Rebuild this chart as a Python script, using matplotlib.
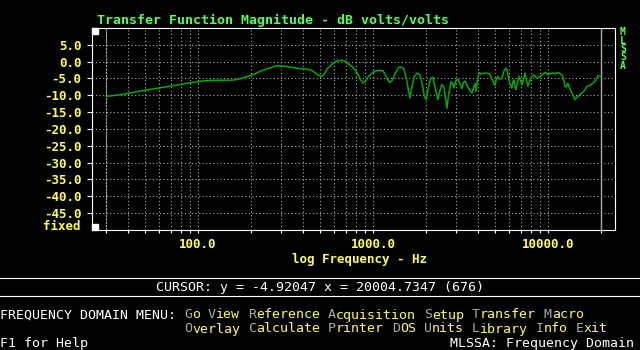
import matplotlib
matplotlib.use('Agg')
import matplotlib.pyplot as plt
from matplotlib.patches import Rectangle
from matplotlib.lines import Line2D

plt.rcParams['font.family'] = ['DejaVu Sans Mono']

# frequency (Hz) and magnitude (dB)
freq = [30, 35, 40, 47, 55, 65, 75, 85, 95, 105, 114, 135, 158, 174, 190, 205, 226, 245, 258,
        272, 286, 310, 349, 390, 420, 448, 480, 511, 530, 550, 568, 600, 630, 670, 700, 720,
        760, 789, 820, 850, 877, 900, 940, 987, 1040, 1097, 1140, 1180, 1220, 1250, 1290,
        1340, 1400, 1450, 1500, 1560, 1600, 1627, 1660, 1720, 1783, 1850, 1920, 1960, 2008,
        2060, 2130, 2200, 2260, 2351, 2400, 2479, 2540, 2600, 2648, 2700, 2792, 2850, 2904,
        2980, 3062, 3140, 3228, 3290, 3357, 3420, 3500, 3600, 3681, 3760, 3840, 3881, 3940,
        4036, 4150, 4255, 4370, 4483, 4600, 4667, 4786, 4880, 4977, 5080, 5177, 5300, 5458,
        5600, 5754, 5850, 5902, 6050, 6223, 6300, 6394, 6480, 6561, 6700, 6823, 6950, 7096,
        7250, 7389, 7530, 7686, 7900, 8102, 8318, 8480, 8650, 8995, 9300, 9616, 10000, 10300,
        10690, 11000, 11400, 12020, 12250, 12500, 12700, 13000, 13300, 13710, 14000, 14260,
        14500, 14830, 15200, 15630, 16200, 16710, 17400, 18070, 18700, 19310, 20000]
mag = [-10.3, -9.9, -9.4, -8.7, -8.1, -7.5, -7.0, -6.5, -6.1, -5.8, -5.6, -5.5, -5.5, -5.1,
       -4.5, -3.9, -2.9, -2.2, -1.9, -1.4, -1.2, -1.3, -1.8, -2.1, -2.2, -2.6, -3.8, -4.4,
       -3.5, -2.0, -1.4, -0.2, 0.3, 0.4, 0.0, -0.6, -1.5, -2.4, -3.8, -5.4, -6.3, -6.0, -4.5,
       -3.4, -2.7, -2.6, -2.7, -4.0, -5.5, -6.2, -5.5, -3.5, -1.7, -1.6, -2.0, -5.5, -9.0,
       -10.8, -8.0, -4.5, -3.4, -3.9, -7.0, -10.0, -11.3, -8.5, -5.0, -4.6, -7.5, -11.3,
       -9.0, -6.8, -7.5, -11.0, -13.8, -10.0, -5.9, -6.5, -7.8, -5.5, -5.2, -6.5, -8.0, -6.2,
       -5.8, -6.5, -7.8, -8.8, -9.3, -7.5, -6.5, -8.8, -6.0, -3.2, -3.7, -3.6, -3.4, -3.4,
       -3.6, -4.0, -5.2, -6.0, -7.1, -5.0, -4.4, -5.2, -5.0, -2.8, -1.9, -2.5, -3.9, -6.5,
       -7.8, -6.0, -5.4, -7.5, -8.3, -6.0, -4.4, -5.5, -6.9, -5.0, -3.4, -5.5, -7.3, -5.5,
       -4.4, -3.9, -4.5, -4.9, -4.4, -3.8, -3.2, -3.9, -3.6, -3.4, -3.6, -3.2, -3.9, -5.0,
       -7.3, -7.5, -6.4, -8.0, -9.3, -10.3, -11.3, -10.8, -10.3, -9.8, -9.3, -8.5, -7.3,
       -7.0, -6.4, -5.7, -4.2, -4.4]

x_major = [100, 1000, 10000]
x_major_labels = ['100.0', '1000.0', '10000.0']
x_minor = [30, 40, 50, 60, 70, 80, 90, 200, 300, 400, 500, 600, 700, 800, 900,
           2000, 3000, 4000, 5000, 6000, 7000, 8000, 9000, 20000]
y_ticks = [-45, -40, -35, -30, -25, -20, -15, -10, -5, 0, 5]

menu1 = ['Go', 'View', 'Reference', 'Acquisition', 'Setup', 'Transfer', 'Macro']
menu2 = ['Overlay', 'Calculate', 'Printer', 'DOS', 'Units', 'Library', 'Info', 'Exit']

W, H = 640, 350
YEL = '#FFFF55'
GRN = '#55FF55'
GRY = '#AAAAAA'
FS = 9.57


def fx(x):
    return x / W


def fy(y):
    return 1 - y / H


fig = plt.figure(figsize=(6.4, 3.5), dpi=100, facecolor='black')
ax = fig.add_axes([fx(92), fy(230), (615 - 92) / W, (230 - 28) / H])
ax.set_facecolor('black')
ax.set_xscale('log')
ax.set_xlim(24.8, 24150)
ax.set_ylim(-50, 10)

ax.plot(freq, mag, color='#00AA00', lw=1.1, zorder=3)

ax.set_xticks(x_major)
ax.set_xticklabels(x_major_labels)
ax.set_xticks(x_minor, minor=True)
ax.xaxis.set_minor_formatter(plt.NullFormatter())
ax.set_yticks(y_ticks)
ax.set_yticklabels(['%.1f' % v for v in y_ticks])

ax.grid(which='both', axis='x', color=GRY, linestyle=(0, (1, 2.2)), lw=0.8)
ax.grid(which='major', axis='y', color=GRY, linestyle=(0, (1, 2.2)), lw=0.8)
ax.axvline(30, color=GRY, linestyle=(0, (2, 1)), lw=0.8, zorder=2)
ax.axvline(20000, color=GRY, lw=1.0, zorder=2)

ax.tick_params(axis='x', which='both', direction='out', length=2.5, width=0.8,
               color='white', labelcolor=YEL, labelsize=9, pad=3)
ax.tick_params(axis='y', direction='out', length=3.6, width=0.8,
               color='white', labelcolor=YEL, labelsize=9, pad=4)
for lab in ax.get_xticklabels() + ax.get_yticklabels():
    lab.set_fontweight('bold')
for s in ax.spines.values():
    s.set_color('white')
    s.set_linewidth(0.8)

# corner markers
fig.add_artist(Rectangle((fx(92), fy(34)), 6 / W, 6 / H, transform=fig.transFigure,
                         color='white', zorder=5))
fig.add_artist(Rectangle((fx(92), fy(230)), 6 / W, 6 / H, transform=fig.transFigure,
                         color='white', zorder=5))

fig.text(fx(97), fy(20), 'Transfer Function Magnitude - dB volts/volts', color=GRN,
         fontsize=9.5, fontweight='bold', va='center', ha='left')
fig.text(fx(80), fy(227), 'fixed', color=YEL, fontsize=9, fontweight='bold',
         va='center', ha='right')
# vertical MLSSA tag, one letter per line
fig.text(fx(623), fy(49), '\n'.join('MLSSA'), color=GRN, fontsize=7,
         fontweight='bold', va='center', ha='center', linespacing=0.8)
fig.text(fx(360), fy(259), 'log Frequency - Hz', color=YEL, fontsize=9,
         fontweight='bold', va='center', ha='center')

# status area
for yy in (278, 296):
    fig.add_artist(Line2D([0, 1], [fy(yy), fy(yy)], color='white', lw=0.8,
                          transform=fig.transFigure))
fig.text(0.5, fy(287), 'CURSOR: y = -4.92047 x = 20004.7347 (676)', color='white',
         fontsize=FS, va='center', ha='center')
fig.text(0, fy(315), 'FREQUENCY DOMAIN MENU:', color='white', fontsize=FS,
         va='center', ha='left')


def menu_line(words, ypix, col=23):
    for w in words:
        fig.text(fx(col * 8), fy(ypix), w[0], color=GRY, fontsize=FS, va='center', ha='left')
        fig.text(fx((col + 1) * 8), fy(ypix), w[1:], color=YEL, fontsize=FS,
                 va='center', ha='left')
        col += len(w) + 1


menu_line(menu1, 315)
menu_line(menu2, 329)
fig.text(0, fy(343), 'F1 for Help', color='white', fontsize=FS, va='center', ha='left')
fig.text(fx(634), fy(343), 'MLSSA: Frequency Domain', color='white', fontsize=FS,
         va='center', ha='right')

fig.savefig('out.png', dpi=100, facecolor='black')
